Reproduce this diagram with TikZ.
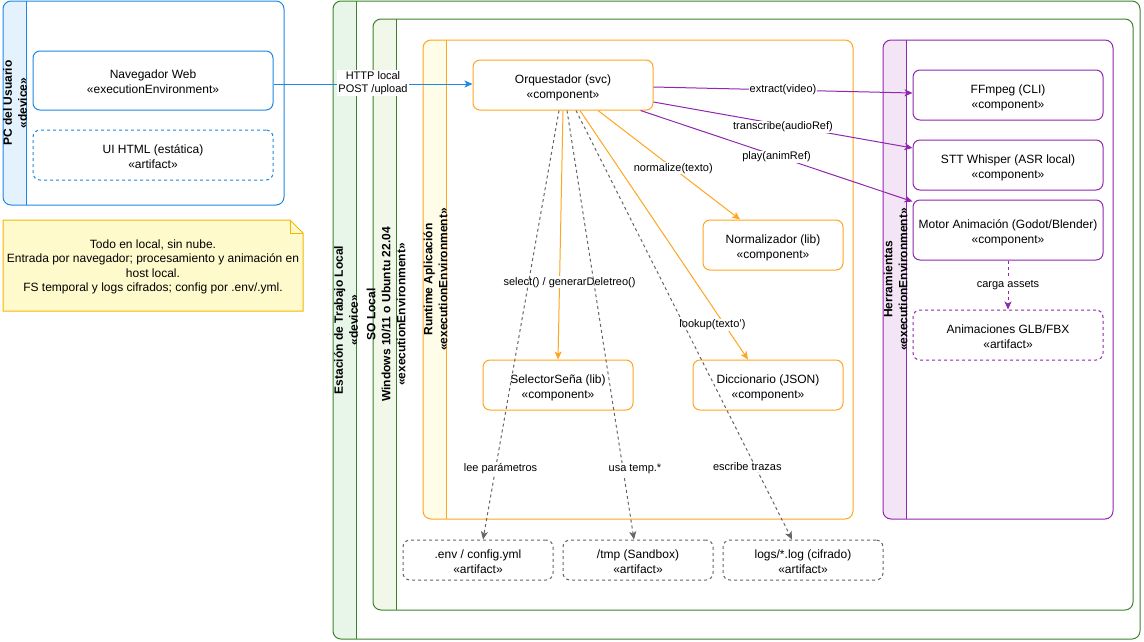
\documentclass[tikz,border=0pt]{standalone}
\usepackage{fontspec}
\setmainfont{Liberation Sans}
\usetikzlibrary{arrows.meta,calc}

\definecolor{blueS}{HTML}{1E88E5}
\definecolor{blueF}{HTML}{E3F2FD}
\definecolor{greenS}{HTML}{3A852A}
\definecolor{greenF}{HTML}{E8F5E9}
\definecolor{greenF2}{HTML}{F1F8E9}
\definecolor{orangeS}{HTML}{FFA51F}
\definecolor{orangeF}{HTML}{FFFDE7}
\definecolor{purpleS}{HTML}{9127AE}
\definecolor{purpleF}{HTML}{F3E5F5}
\definecolor{noteF}{HTML}{FFFACC}
\definecolor{noteS}{HTML}{F5B400}
\definecolor{grayS}{HTML}{666666}

\newcommand\fnode{\fontsize{12}{15}\selectfont}
\newcommand\fedge{\fontsize{11}{13}\selectfont}

\tikzset{
  box/.style={draw=#1, line width=1pt, rounded corners=7pt, fill=white,
    align=center, font=\fnode, inner sep=2pt, text=black,
    text height=29pt, text depth=3pt},
  comp/.style={box=#1},
  artf/.style={box=#1, dash pattern=on 3pt off 3pt},
  cont/.style 2 args={draw=#1, line width=1pt, rounded corners=8pt, fill=white,
    path picture={
      \fill[#2, sharp corners] (path picture bounding box.north west)
        rectangle ([xshift=23.5pt]path picture bounding box.south west);
      \draw[#1, line width=1pt, sharp corners]
        ([xshift=23.5pt]path picture bounding box.north west)
        -- ([xshift=23.5pt]path picture bounding box.south west);}},
  vlabel/.style={rotate=90, align=center, font=\fnode\bfseries, inner sep=0pt,
    text=black},
  elab/.style={fill=white, font=\fedge, inner sep=1pt, align=center, text=black},
  link/.style={draw=#1, line width=1pt,
    -{Stealth[length=8pt,width=7pt,inset=2pt,fill=#1]}},
  dep/.style={link=#1, dash pattern=on 3pt off 3pt},
}

\begin{document}
\begin{tikzpicture}[x=1pt, y=-1pt]
\useasboundingbox (0,0) rectangle (1144,641);

% ---- containers ----
\node[cont={blueS}{blueF}, minimum width=281pt, minimum height=204pt] (pc) at (143.5,103) {};
\node[vlabel] (pclab) at (15,103) {PC del Usuario\\«device»};

\node[cont={greenS}{greenF}, minimum width=807pt, minimum height=638pt] (est) at (736.5,320) {};
\node[vlabel] (estlab) at (346,320) {Estación de Trabajo Local\\«device»};

\node[cont={greenS}{greenF2}, minimum width=760pt, minimum height=591pt] (so) at (753,314.5) {};
\node[vlabel] (solab) at (386,314.5) {SO Local\\Windows 10/11 o Ubuntu 22.04\\«executionEnvironment»};

\node[cont={orangeS}{orangeF}, minimum width=430pt, minimum height=479pt] (rt) at (638,279.5) {};
\node[vlabel] (rtlab) at (435.5,279.5) {Runtime Aplicación\\«executionEnvironment»};

\node[cont={purpleS}{purpleF}, minimum width=230pt, minimum height=479pt] (herr) at (998,279.5) {};
\node[vlabel] (herrlab) at (895.5,279.5) {Herramientas\\«executionEnvironment»};

% ---- user PC ----
\node[comp=blueS, minimum width=240pt, minimum height=59pt] (nav) at (153,80.5) {Navegador Web\\«executionEnvironment»};
\node[artf=blueS, minimum width=240pt, minimum height=50pt] (ui) at (153,155) {UI HTML (estática)\\«artifact»};

% ---- note ----
\filldraw[draw=noteS, fill=noteF, line width=1pt] (3,220) -- (290,220) -- (303,233) -- (303,311) -- (3,311) -- cycle;
\draw[noteS, line width=0.8pt] (290,220) -- (290,233) -- (303,233);
\node[font=\fontsize{12}{14.4}\selectfont, align=center, text=black] (note) at (153,267)
  {Todo en local, sin nube.\\Entrada por navegador; procesamiento y animación en\\host local.\\FS temporal y logs cifrados; config por .env/.yml.};

% ---- runtime components ----
\node[comp=orangeS, minimum width=180pt, minimum height=50pt] (orq) at (563,85) {Orquestador (svc)\\«component»};
\node[comp=orangeS, minimum width=140pt, minimum height=50pt] (norm) at (773,245) {Normalizador (lib)\\«component»};
\node[comp=orangeS, minimum width=150pt, minimum height=50pt] (sel) at (558,385) {SelectorSeña (lib)\\«component»};
\node[comp=orangeS, minimum width=150pt, minimum height=50pt] (dic) at (768,385) {Diccionario (JSON)\\«component»};

% ---- tools ----
\node[comp=purpleS, minimum width=190pt, minimum height=50pt] (ffm) at (1008,95) {FFmpeg (CLI)\\«component»};
\node[comp=purpleS, minimum width=190pt, minimum height=50pt] (stt) at (1008,165) {STT Whisper (ASR local)\\«component»};
\node[comp=purpleS, minimum width=190pt, minimum height=60pt] (mot) at (1008,230) {Motor Animación (Godot/Blender)\\«component»};
\node[artf=purpleS, minimum width=190pt, minimum height=50pt] (anim) at (1008,335) {Animaciones GLB/FBX\\«artifact»};

% ---- file system artifacts ----
\node[artf=grayS, minimum width=150pt, minimum height=40pt] (env) at (478,560) {.env / config.yml\\«artifact»};
\node[artf=grayS, minimum width=150pt, minimum height=40pt] (tmp) at (638,560) {/tmp (Sandbox)\\«artifact»};
\node[artf=grayS, minimum width=160pt, minimum height=40pt] (logs) at (803,560) {logs/*.log (cifrado)\\«artifact»};

% ---- connectors ----
\draw[link=blueS] ([yshift=-3.5pt]nav.east) -- node[elab, pos=0.5, yshift=1pt] (httplab) {HTTP local\\POST /upload} ([yshift=1pt]orq.west);

\draw[link=purpleS] ([yshift=-2pt]orq.east) -- node[elab] (extlab) {extract(video)} ([yshift=2pt]ffm.west);
\draw[link=purpleS] ([yshift=-17pt]orq.east) -- node[elab, yshift=-2pt] (trlab) {transcribe(audioRef)} ([yshift=17pt]stt.west);
\draw[link=purpleS] ([xshift=-13pt]orq.south east) -- node[elab, pos=0.5, yshift=-1pt] (plab) {play(animRef)} ([yshift=-2pt]mot.north west);

\draw[link=orangeS] ([xshift=35pt]orq.south) -- node[elab, pos=0.53] (nlab) {normalize(texto)} ([xshift=-33pt]norm.north);
\draw[link=orangeS] (orq.south) -- node[elab, pos=0.69, xshift=10pt] (slab) {select() / generarDeletreo()} (sel.north);
\draw[link=orangeS] ([xshift=17pt]orq.south) -- node[elab, pos=0.86, xshift=-12pt] (llab) {lookup(texto')} ([xshift=-20pt]dic.north);

\draw[dep=grayS] ([xshift=-4pt]orq.south) -- node[elab, pos=0.835, xshift=5pt] (elab1) {lee parámetros} ([xshift=5pt]env.north);
\draw[dep=grayS] ([xshift=4pt]orq.south) -- node[elab, pos=0.835, xshift=12pt] (elab2) {usa temp.*} ([xshift=-4pt]tmp.north);
\draw[dep=grayS] ([xshift=13pt]orq.south) -- node[elab, pos=0.83, xshift=-8pt] (elab3) {escribe trazas} ([xshift=-11pt]logs.north);

\draw[dep=purpleS] (mot.south) -- node[elab] (clab) {carga assets} (anim.north);
\end{tikzpicture}
\end{document}
